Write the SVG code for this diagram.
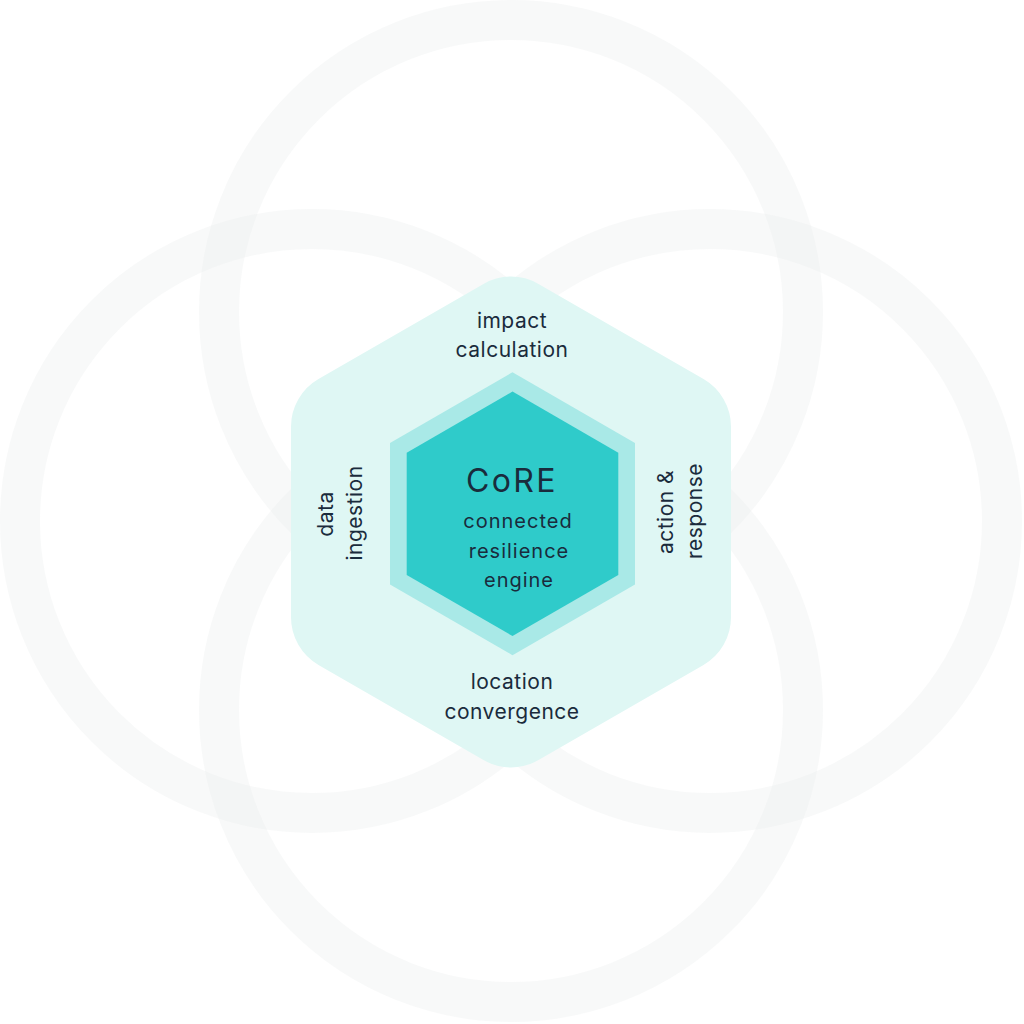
<svg xmlns="http://www.w3.org/2000/svg" width="1024" height="1024" viewBox="0 0 1024 1024">
  <style>
    .ring { fill: none; stroke: #e9ecee; stroke-width: 40; stroke-opacity: 0.33; }
    .lbl { font-family: Inter, "Open Sans", "DejaVu Sans", sans-serif; fill: #1a2b3c; text-anchor: middle; }
    .outer { font-size: 21px; letter-spacing: 0.5px; }
    .inner { font-size: 20px; letter-spacing: 1px; }
    .title { font-size: 32px; letter-spacing: 2.4px; }
  </style>
  <rect width="1024" height="1024" fill="#ffffff"/>
  <g id="rings">
    <circle class="ring" cx="511" cy="312" r="292"/>
    <circle class="ring" cx="312" cy="521" r="292"/>
    <circle class="ring" cx="710" cy="521" r="292"/>
    <circle class="ring" cx="511" cy="710" r="292"/>
  </g>
  <g id="outer-hexagon">
    <path fill="#dff7f4" d="M483.5,283.9 A55,55 0 0 1 538.5,283.9 L703.5,379.1 A55,55 0 0 1 731,426.75 L731,617.25 A55,55 0 0 1 703.5,664.9 L538.5,760.1 A55,55 0 0 1 483.5,760.1 L318.5,664.9 A55,55 0 0 1 291,617.25 L291,426.75 A55,55 0 0 1 318.5,379.1 Z"/>
  </g>
  <g id="impact-calculation">
    <text class="lbl outer" x="512" y="328">impact</text>
    <text class="lbl outer" x="512" y="357">calculation</text>
  </g>
  <g id="location-convergence">
    <text class="lbl outer" x="512" y="689">location</text>
    <text class="lbl outer" x="512" y="719">convergence</text>
  </g>
  <g id="data-ingestion">
    <text class="lbl outer" transform="translate(333,514) rotate(-90)">data</text>
    <text class="lbl outer" transform="translate(362,513) rotate(-90)">ingestion</text>
  </g>
  <g id="action-response">
    <text class="lbl outer" transform="translate(673,512) rotate(-90)">action &amp;</text>
    <text class="lbl outer" transform="translate(702,511) rotate(-90)">response</text>
  </g>
  <g id="middle-hexagon">
    <polygon fill="#a9e9e7" points="512.5,372.2 635,443 635,584.5 512.5,655.2 390,584.5 390,443"/>
  </g>
  <g id="core">
    <polygon fill="#2fcbca" points="512.5,391.6 618.3,452.7 618.3,574.9 512.5,636 406.7,574.9 406.7,452.7"/>
    <text class="lbl title" x="512" y="492">CoRE</text>
    <text class="lbl inner" x="518" y="528">connected</text>
    <text class="lbl inner" x="519" y="558">resilience</text>
    <text class="lbl inner" x="519" y="587">engine</text>
  </g>
</svg>
